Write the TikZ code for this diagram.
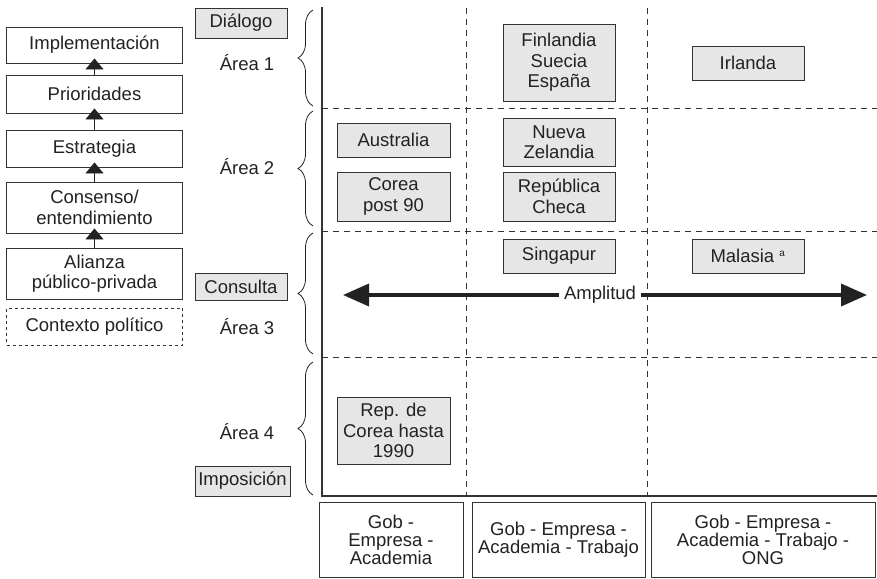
\documentclass[tikz,border=0pt]{standalone}
\usepackage{fontspec}
\setmainfont{Liberation Sans}
\usetikzlibrary{arrows.meta,decorations.pathreplacing}
\definecolor{ink}{HTML}{222222}
\definecolor{edge}{HTML}{333333}
\definecolor{boxgray}{HTML}{E6E6E6}
\tikzset{
  txt/.style={font=\fontsize{18.5}{20.5}\selectfont, text=ink, align=center, inner sep=0pt},
  lbox/.style={txt, draw=edge, line width=0.9pt, fill=white, minimum width=176pt},
  gbox/.style={txt, draw=edge, line width=0.9pt, fill=boxgray},
  bbox/.style={txt, font=\fontsize{18.5}{18}\selectfont, draw=edge, line width=0.9pt, fill=white, minimum height=75pt},
  uparrow/.style={draw=ink, line width=0.9pt, shorten >=-5pt, -{Triangle[width=18pt,length=11pt]}},
  griddash/.style={draw=edge, line width=0.9pt, dash pattern=on 6pt off 5pt},
  gridsolid/.style={draw=edge, line width=1.3pt},
  bracestyle/.style={draw=ink, line width=0.8pt, decorate, decoration={brace, amplitude=15pt}},
  bigarrow/.style={draw=ink, line width=3.6pt, -{Triangle[width=22pt,length=26pt]}}
}
\begin{document}
\begin{tikzpicture}[x=1pt,y=-1pt]
\useasboundingbox (0,0) rectangle (877,578);

% left chain
\node[lbox, minimum height=36pt] (impl) at (94.5,45) {Implementación};
\node[lbox, minimum height=38pt] (prio) at (94.5,94) {Prioridades};
\node[lbox, minimum height=37pt] (estr) at (94.5,148.5) {Estrategia};
\node[lbox, minimum height=51pt] (cons) at (94.5,207.5) {Consenso/\\entendimiento};
\node[lbox, minimum height=51pt] (alia) at (94.5,273.5) {Alianza\\público-privada};
\node[lbox, minimum height=37pt, dashed] (ctx) at (94.5,326.5) {Contexto político};
\draw[uparrow] (prio) -- (impl);
\draw[uparrow] (estr) -- (prio);
\draw[uparrow] (cons) -- (estr);
\draw[uparrow] (alia) -- (cons);

% scale labels
\node[gbox, minimum width=92pt, minimum height=30pt] (dial) at (241,23) {Diálogo};
\node[gbox, minimum width=92pt, minimum height=27pt] (cons2) at (241,286.5) {Consulta};
\node[gbox, minimum width=95pt, minimum height=30pt] (impo) at (242.5,481) {Imposición};

\node[txt] (a1) at (247,63) {Área 1};
\node[txt] (a2) at (247,167) {Área 2};
\node[txt] (a3) at (247,327) {Área 3};
\node[txt] (a4) at (247,432) {Área 4};

% braces
\coordinate (b1s) at (313,106); \coordinate (b1e) at (313,10);
\coordinate (b2s) at (313,226); \coordinate (b2e) at (313,111);
\coordinate (b3s) at (313,354); \coordinate (b3e) at (313,233);
\coordinate (b4s) at (313,495); \coordinate (b4e) at (313,362);
\draw[bracestyle] (b1s) -- (b1e);
\draw[bracestyle] (b2s) -- (b2e);
\draw[bracestyle] (b3s) -- (b3e);
\draw[bracestyle] (b4s) -- (b4e);

% grid
\coordinate (gtl) at (322,7);
\coordinate (gbl) at (322,496);
\coordinate (gbr) at (877,496);
\coordinate (h1l) at (322,108); \coordinate (h1r) at (877,108);
\coordinate (h2l) at (322,231); \coordinate (h2r) at (877,231);
\coordinate (h3l) at (322,357); \coordinate (h3r) at (877,357);
\coordinate (v1t) at (466,8); \coordinate (v1b) at (466,496);
\coordinate (v2t) at (647,8); \coordinate (v2b) at (647,496);
\draw[griddash] (h1l) -- (h1r);
\draw[griddash] (h2l) -- (h2r);
\draw[griddash] (h3l) -- (h3r);
\draw[griddash] (v1t) -- (v1b);
\draw[griddash] (v2t) -- (v2b);
\draw[gridsolid] (gtl) -- (gbl) -- (gbr);

% countries
\node[gbox, minimum width=112pt, minimum height=77pt] (fin) at (559,62.5) {Finlandia\\Suecia\\España};
\node[gbox, minimum width=112pt, minimum height=34pt] (irl) at (748,63) {Irlanda};
\node[gbox, minimum width=113pt, minimum height=34pt] (aus) at (393.5,140) {Australia};
\node[gbox, minimum width=113pt, minimum height=49pt] (cor) at (393.5,196.5) {Corea\\post 90};
\node[gbox, minimum width=112pt, minimum height=48pt] (nz) at (559,142) {Nueva\\Zelandia};
\node[gbox, minimum width=112pt, minimum height=49pt] (rc) at (559,196.5) {República\\Checa};
\node[gbox, minimum width=112pt, minimum height=34pt] (sing) at (559,256) {Singapur};
\node[gbox, minimum width=112pt, minimum height=34pt] (mal) at (748,256) {Malasia \textsuperscript{\fontsize{10}{10}\selectfont a}};
\node[gbox, minimum width=113pt, minimum height=67pt] (rep) at (393.5,430.5) {Rep. de\\Corea hasta\\1990};

% amplitud
\node[txt, inner xsep=5pt] (amp) at (600,295) {Amplitud};
\coordinate (ampL) at (343,295);
\coordinate (ampR) at (867,295);
\draw[bigarrow] (amp.west) -- (ampL);
\draw[bigarrow] (amp.east) -- (ampR);

% bottom boxes
\node[bbox, minimum width=144pt] (g1) at (391,539.5) {Gob -\\Empresa -\\Academia};
\node[bbox, minimum width=173pt] (g2) at (558.5,539.5) {Gob - Empresa -\\Academia - Trabajo};
\node[bbox, minimum width=224pt] (g3) at (763,539.5) {Gob - Empresa -\\Academia - Trabajo -\\ONG};
\end{tikzpicture}
\end{document}
